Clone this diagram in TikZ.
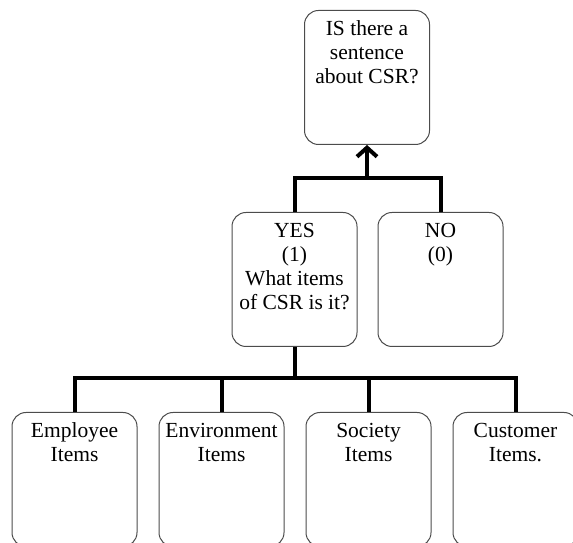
\documentclass[tikz,border=0pt]{standalone}
\usepackage{fontspec}
\setmainfont{Liberation Serif}
\usetikzlibrary{arrows.meta}
\usetikzlibrary{positioning}

\newcommand{\boxlines}[1]{\parbox[t][134pt][t]{125pt}{\centering\rule{0pt}{25.5pt}#1}}

\begin{document}
\begin{tikzpicture}[x=1pt, y=1pt,
    every node/.style={font=\fontsize{21.5}{24}\selectfont},
    choice/.style={draw=black!70, line width=1pt, rounded corners=14pt, inner sep=0pt, anchor=north},
    link/.style={draw, line width=4pt, line join=miter}]
  \useasboundingbox (0,0) rectangle (573,543);
  \clip (0,0) rectangle (573,543);

  \node [choice] (csr_q) at (367,533) {\boxlines{IS there a\\ sentence\\ about CSR?}};
  \node [choice] (ans_yes) at (294.5,331) {\boxlines{YES\\ (1)\\ What items\\ of CSR is it?}};
  \node [choice, right=20pt of ans_yes] (ans_no) {\boxlines{NO\\ (0)}};

  \node [choice] (item_emp) at (74.5,131) {\boxlines{Employee\\ Items}};
  \node [choice, right=21pt of item_emp] (item_env) {\boxlines{Environment\\ Items}};
  \node [choice, right=21pt of item_env] (item_soc) {\boxlines{Society\\ Items}};
  \node [choice, right=21pt of item_soc] (item_cus) {\boxlines{Customer\\ Items.}};

  \coordinate (upper_join) at (367,365);
  \coordinate (lower_join) at (294.5,165);

  \path [link] (ans_yes.north) |- (upper_join) -| (ans_no.north);
  \path [link, -{Straight Barb[length=9pt,width=20pt]}] (upper_join) -- (csr_q.south);

  \path [link] (ans_yes.south) -- (lower_join);
  \path [link] (item_emp.north) |- (lower_join) -| (item_cus.north);
  \path [link] (item_env.north) -- (item_env.north |- lower_join);
  \path [link] (item_soc.north) -- (item_soc.north |- lower_join);

\end{tikzpicture}
\end{document}
